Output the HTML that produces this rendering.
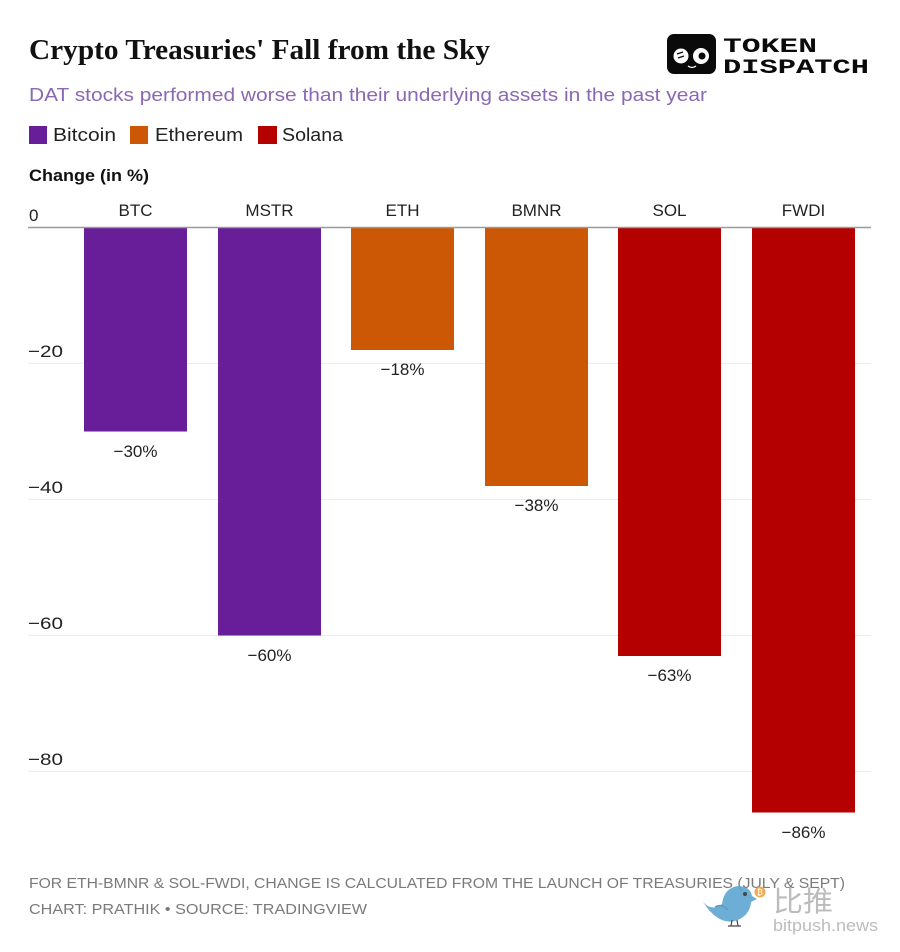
<!DOCTYPE html>
<html>
<head>
<meta charset="utf-8">
<style>
  html,body{margin:0;padding:0;background:#fff;}
  svg{display:block;}
  text{font-family:"Liberation Sans","Noto Sans CJK SC",sans-serif;}
</style>
</head>
<body>
<svg width="900" height="952" viewBox="0 0 900 952" xmlns="http://www.w3.org/2000/svg">
  <rect x="0" y="0" width="900" height="952" fill="#ffffff"/>

  <!-- Title -->
  <text x="29" y="59" font-family="Liberation Serif, serif" font-weight="bold" font-size="29" fill="#111" textLength="461" lengthAdjust="spacingAndGlyphs" style="font-family:'Liberation Serif',serif">Crypto Treasuries' Fall from the Sky</text>

  <!-- Subtitle -->
  <text x="29" y="101" font-size="18" fill="#8a68b3" textLength="678" lengthAdjust="spacingAndGlyphs">DAT stocks performed worse than their underlying assets in the past year</text>

  <!-- Logo -->
  <rect x="667" y="34" width="49" height="40" rx="7" fill="#0a0a0a"/>
  <circle cx="681" cy="56" r="7.5" fill="#fff"/>
  <circle cx="701" cy="56" r="8" fill="#fff"/>
  <circle cx="702" cy="56" r="3.5" fill="#0a0a0a"/>
  <path d="M677 54 L683 52 M678 58 L684 56" stroke="#0a0a0a" stroke-width="1.3"/>
  <path d="M688 66 Q692 69 696 66" stroke="#fff" stroke-width="1.3" fill="none"/>
  <text x="723" y="52" font-size="20" font-weight="bold" fill="#0a0a0a" textLength="94" lengthAdjust="spacingAndGlyphs" style="font-family:'Liberation Mono',monospace">TOKEN</text>
  <text x="723" y="73" font-size="20" font-weight="bold" fill="#0a0a0a" textLength="146" lengthAdjust="spacingAndGlyphs" style="font-family:'Liberation Mono',monospace">DISPATCH</text>

  <!-- Legend -->
  <rect x="29" y="126" width="18" height="18" fill="#681d99"/>
  <text x="53" y="141" font-size="18" fill="#222" textLength="63" lengthAdjust="spacingAndGlyphs">Bitcoin</text>
  <rect x="130" y="126" width="18" height="18" fill="#cc5806"/>
  <text x="155" y="141" font-size="18" fill="#222" textLength="88" lengthAdjust="spacingAndGlyphs">Ethereum</text>
  <rect x="258" y="126" width="19" height="18" fill="#b50000"/>
  <text x="282" y="141" font-size="18" fill="#222" textLength="61" lengthAdjust="spacingAndGlyphs">Solana</text>

  <!-- Axis title -->
  <text x="29" y="181" font-size="17" font-weight="bold" fill="#111" textLength="120" lengthAdjust="spacingAndGlyphs">Change (in %)</text>

  <!-- Gridlines -->
  <g stroke="#ececec" stroke-width="1">
    <line x1="28" y1="363.5" x2="871" y2="363.5"/>
    <line x1="28" y1="499.5" x2="871" y2="499.5"/>
    <line x1="28" y1="635.5" x2="871" y2="635.5"/>
    <line x1="28" y1="771.5" x2="871" y2="771.5"/>
  </g>

  <!-- Tick labels -->
  <g font-size="17" fill="#222">
    <text x="29" y="221">0</text>
    <text x="28" y="357" textLength="35" lengthAdjust="spacingAndGlyphs">−20</text>
    <text x="28" y="493" textLength="35" lengthAdjust="spacingAndGlyphs">−40</text>
    <text x="28" y="629" textLength="35" lengthAdjust="spacingAndGlyphs">−60</text>
    <text x="28" y="765" textLength="35" lengthAdjust="spacingAndGlyphs">−80</text>
  </g>

  <!-- Category labels -->
  <g font-size="17" fill="#222" text-anchor="middle">
    <text x="135.5" y="216">BTC</text>
    <text x="269.5" y="216">MSTR</text>
    <text x="402.5" y="216">ETH</text>
    <text x="536.5" y="216">BMNR</text>
    <text x="669.5" y="216">SOL</text>
    <text x="803.5" y="216">FWDI</text>
  </g>

  <!-- Bars -->
  <rect x="84" y="228" width="103" height="203.5" fill="#681d99"/>
  <rect x="218" y="228" width="103" height="407.5" fill="#681d99"/>
  <rect x="351" y="228" width="103" height="122" fill="#cc5806"/>
  <rect x="485" y="228" width="103" height="258" fill="#cc5806"/>
  <rect x="618" y="228" width="103" height="428" fill="#b50000"/>
  <rect x="752" y="228" width="103" height="584.5" fill="#b50000"/>

  <!-- Zero line -->
  <line x1="28" y1="227.5" x2="871" y2="227.5" stroke="#9a9a9a" stroke-width="1.5"/>

  <!-- Value labels -->
  <g font-size="17" fill="#222" text-anchor="middle">
    <text x="135.5" y="457">−30%</text>
    <text x="269.5" y="661">−60%</text>
    <text x="402.5" y="375">−18%</text>
    <text x="536.5" y="511">−38%</text>
    <text x="669.5" y="681">−63%</text>
    <text x="803.5" y="838">−86%</text>
  </g>

  <!-- Footer -->
  <text x="29" y="888" font-size="15" fill="#7a7a7a" textLength="816" lengthAdjust="spacingAndGlyphs">FOR ETH-BMNR &amp; SOL-FWDI, CHANGE IS CALCULATED FROM THE LAUNCH OF TREASURIES (JULY &amp; SEPT)</text>
  <text x="29" y="914" font-size="15" fill="#7a7a7a" textLength="338" lengthAdjust="spacingAndGlyphs">CHART: PRATHIK • SOURCE: TRADINGVIEW</text>

  <!-- Watermark -->
  <g opacity="0.9">
    <path d="M703 902 Q712 912 722 904 Q724 888 738 886 Q750 886 752 896 L757 899 L751 902 Q750 916 735 921 Q718 925 703 902 Z" fill="#5ea6d2"/>
    <path d="M715 907 Q722 903 728 910" stroke="#4b90bc" stroke-width="1.5" fill="none"/>
    <circle cx="745" cy="894" r="2" fill="#333"/>
    <path d="M732 920 L731 926 M737 920 L738 926 M728 926 L741 926" stroke="#333" stroke-width="1.2"/>
    <circle cx="760" cy="892" r="5.5" fill="#f0a040"/>
    <text x="760" y="895" font-size="8" fill="#fff" text-anchor="middle">₿</text>
    <text x="773" y="911" font-size="28" fill="#b5b5b5" textLength="60" lengthAdjust="spacingAndGlyphs" style="font-family:'Liberation Sans','Noto Sans CJK SC',sans-serif">比推</text>
    <text x="773" y="931" font-size="17" fill="#b5b5b5" textLength="105" lengthAdjust="spacingAndGlyphs">bitpush.news</text>
  </g>
</svg>
</body>
</html>
